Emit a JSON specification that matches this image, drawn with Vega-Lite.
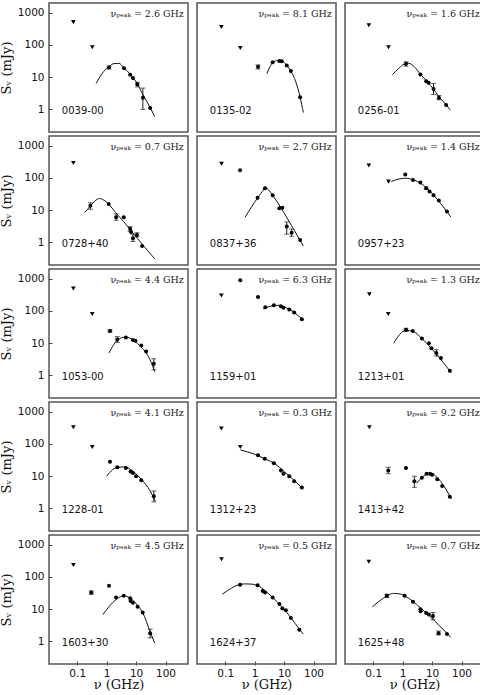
{
  "$schema": "https://vega.github.io/schema/vega-lite/v6.json",
  "padding": {"top": 2, "left": 0, "right": 0, "bottom": 0},
  "config": {
    "view": {"stroke": "#555", "strokeWidth": 1.5},
    "header": {"labels": false, "labelFontSize": 0, "labelPadding": 0},
    "axis": {"grid": false, "domain": false, "tickColor": "#444", "tickSize": -4, "labelFont": "DejaVu Sans", "labelFontSize": 10.5, "labelColor": "#111", "titleFont": "DejaVu Serif", "titleFontSize": 13, "titleFontWeight": "normal", "titleColor": "#111"},
    "axisX": {"labelPadding": 7, "titlePadding": 0},
    "axisY": {"labelPadding": 8, "titlePadding": 4}
  },
  "data": {"values": [
    {"src": "0039-00", "k": "meta", "lab": "νₚₑₐₖ = 2.6 GHz"},
    {"src": "0039-00", "k": "tri", "nu": 0.074, "s": 510},
    {"src": "0039-00", "k": "tri", "nu": 0.325, "s": 85},
    {"src": "0039-00", "k": "pt", "nu": 1.2, "s": 20, "lo": 18, "hi": 22},
    {"src": "0039-00", "k": "pt", "nu": 3.9, "s": 19},
    {"src": "0039-00", "k": "pt", "nu": 6.3, "s": 12},
    {"src": "0039-00", "k": "pt", "nu": 7.8, "s": 9.5},
    {"src": "0039-00", "k": "pt", "nu": 11, "s": 6, "lo": 5, "hi": 7},
    {"src": "0039-00", "k": "pt", "nu": 17, "s": 2.3, "lo": 1.0, "hi": 4.6},
    {"src": "0039-00", "k": "pt", "nu": 30, "s": 1.1},
    {"src": "0039-00", "k": "fit", "nu": 0.44, "s": 6.4},
    {"src": "0039-00", "k": "fit", "nu": 0.69, "s": 12.8},
    {"src": "0039-00", "k": "fit", "nu": 1.17, "s": 21},
    {"src": "0039-00", "k": "fit", "nu": 1.8, "s": 26.5},
    {"src": "0039-00", "k": "fit", "nu": 2.6, "s": 27},
    {"src": "0039-00", "k": "fit", "nu": 3.8, "s": 20},
    {"src": "0039-00", "k": "fit", "nu": 6.3, "s": 12.5},
    {"src": "0039-00", "k": "fit", "nu": 11.3, "s": 6},
    {"src": "0039-00", "k": "fit", "nu": 16.7, "s": 3},
    {"src": "0039-00", "k": "fit", "nu": 30, "s": 1.15},
    {"src": "0039-00", "k": "fit", "nu": 43, "s": 0.6},

    {"src": "0135-02", "k": "meta", "lab": "νₚₑₐₖ = 8.1 GHz"},
    {"src": "0135-02", "k": "tri", "nu": 0.074, "s": 360},
    {"src": "0135-02", "k": "tri", "nu": 0.325, "s": 81},
    {"src": "0135-02", "k": "pt", "nu": 1.3, "s": 21, "lo": 18, "hi": 24},
    {"src": "0135-02", "k": "pt", "nu": 4.1, "s": 29},
    {"src": "0135-02", "k": "pt", "nu": 6.9, "s": 32},
    {"src": "0135-02", "k": "pt", "nu": 8.3, "s": 31},
    {"src": "0135-02", "k": "pt", "nu": 12.3, "s": 23},
    {"src": "0135-02", "k": "pt", "nu": 17, "s": 15.5},
    {"src": "0135-02", "k": "pt", "nu": 35, "s": 2.4},
    {"src": "0135-02", "k": "fit", "nu": 2.6, "s": 12.9},
    {"src": "0135-02", "k": "fit", "nu": 3.3, "s": 21},
    {"src": "0135-02", "k": "fit", "nu": 4.1, "s": 28},
    {"src": "0135-02", "k": "fit", "nu": 5.5, "s": 32.5},
    {"src": "0135-02", "k": "fit", "nu": 7.5, "s": 33},
    {"src": "0135-02", "k": "fit", "nu": 10, "s": 29},
    {"src": "0135-02", "k": "fit", "nu": 12.3, "s": 23.5},
    {"src": "0135-02", "k": "fit", "nu": 17, "s": 15.5},
    {"src": "0135-02", "k": "fit", "nu": 25, "s": 7.2},
    {"src": "0135-02", "k": "fit", "nu": 35, "s": 2.4},
    {"src": "0135-02", "k": "fit", "nu": 45, "s": 0.8},

    {"src": "0256-01", "k": "meta", "lab": "νₚₑₐₖ = 1.6 GHz"},
    {"src": "0256-01", "k": "tri", "nu": 0.071, "s": 410},
    {"src": "0256-01", "k": "tri", "nu": 0.33, "s": 85},
    {"src": "0256-01", "k": "pt", "nu": 1.3, "s": 26, "lo": 22, "hi": 30},
    {"src": "0256-01", "k": "pt", "nu": 4.0, "s": 12.2},
    {"src": "0256-01", "k": "pt", "nu": 6.3, "s": 7.5},
    {"src": "0256-01", "k": "pt", "nu": 7.6, "s": 6.7},
    {"src": "0256-01", "k": "pt", "nu": 11.2, "s": 4.3, "lo": 2.9, "hi": 6.4},
    {"src": "0256-01", "k": "pt", "nu": 17, "s": 2.3, "lo": 2.0, "hi": 2.7},
    {"src": "0256-01", "k": "pt", "nu": 30, "s": 1.37},
    {"src": "0256-01", "k": "fit", "nu": 0.45, "s": 12},
    {"src": "0256-01", "k": "fit", "nu": 0.7, "s": 18},
    {"src": "0256-01", "k": "fit", "nu": 1.0, "s": 24},
    {"src": "0256-01", "k": "fit", "nu": 1.6, "s": 27},
    {"src": "0256-01", "k": "fit", "nu": 2.5, "s": 21},
    {"src": "0256-01", "k": "fit", "nu": 4, "s": 12.5},
    {"src": "0256-01", "k": "fit", "nu": 7, "s": 7},
    {"src": "0256-01", "k": "fit", "nu": 11, "s": 4.3},
    {"src": "0256-01", "k": "fit", "nu": 17, "s": 2.5},
    {"src": "0256-01", "k": "fit", "nu": 30, "s": 1.4},
    {"src": "0256-01", "k": "fit", "nu": 42, "s": 0.95},

    {"src": "0728+40", "k": "meta", "lab": "νₚₑₐₖ = 0.7 GHz"},
    {"src": "0728+40", "k": "tri", "nu": 0.074, "s": 290},
    {"src": "0728+40", "k": "pt", "nu": 0.28, "s": 13.8, "lo": 10.7, "hi": 17},
    {"src": "0728+40", "k": "pt", "nu": 1.17, "s": 15.5},
    {"src": "0728+40", "k": "pt", "nu": 2.1, "s": 6.1, "lo": 4.9, "hi": 7.7},
    {"src": "0728+40", "k": "pt", "nu": 3.8, "s": 6.0},
    {"src": "0728+40", "k": "pt", "nu": 6.3, "s": 2.6, "lo": 2.2, "hi": 3.1},
    {"src": "0728+40", "k": "pt", "nu": 6.7, "s": 2.1},
    {"src": "0728+40", "k": "pt", "nu": 7.8, "s": 1.35, "lo": 1.07, "hi": 1.8},
    {"src": "0728+40", "k": "pt", "nu": 10.7, "s": 1.7, "lo": 1.5, "hi": 2.0},
    {"src": "0728+40", "k": "pt", "nu": 16, "s": 0.77},
    {"src": "0728+40", "k": "fit", "nu": 0.18, "s": 8.5},
    {"src": "0728+40", "k": "fit", "nu": 0.28, "s": 13.5},
    {"src": "0728+40", "k": "fit", "nu": 0.4, "s": 19.5},
    {"src": "0728+40", "k": "fit", "nu": 0.58, "s": 23},
    {"src": "0728+40", "k": "fit", "nu": 0.8, "s": 20.5},
    {"src": "0728+40", "k": "fit", "nu": 1.17, "s": 15.5},
    {"src": "0728+40", "k": "fit", "nu": 2, "s": 8.5},
    {"src": "0728+40", "k": "fit", "nu": 3.8, "s": 4.4},
    {"src": "0728+40", "k": "fit", "nu": 6.3, "s": 2.5},
    {"src": "0728+40", "k": "fit", "nu": 11, "s": 1.35},
    {"src": "0728+40", "k": "fit", "nu": 20, "s": 0.7},
    {"src": "0728+40", "k": "fit", "nu": 43, "s": 0.31},

    {"src": "0837+36", "k": "meta", "lab": "νₚₑₐₖ = 2.7 GHz"},
    {"src": "0837+36", "k": "tri", "nu": 0.075, "s": 275},
    {"src": "0837+36", "k": "pt", "nu": 0.32, "s": 173},
    {"src": "0837+36", "k": "pt", "nu": 1.26, "s": 24.5},
    {"src": "0837+36", "k": "pt", "nu": 2.24, "s": 48},
    {"src": "0837+36", "k": "pt", "nu": 4.1, "s": 29},
    {"src": "0837+36", "k": "pt", "nu": 6.9, "s": 11.4},
    {"src": "0837+36", "k": "pt", "nu": 8.7, "s": 12},
    {"src": "0837+36", "k": "pt", "nu": 12.3, "s": 3.1, "lo": 1.8, "hi": 4.3},
    {"src": "0837+36", "k": "pt", "nu": 18, "s": 2.0, "lo": 1.55, "hi": 2.6},
    {"src": "0837+36", "k": "pt", "nu": 35, "s": 1.2},
    {"src": "0837+36", "k": "fit", "nu": 0.47, "s": 6},
    {"src": "0837+36", "k": "fit", "nu": 1.26, "s": 24},
    {"src": "0837+36", "k": "fit", "nu": 2.0, "s": 42},
    {"src": "0837+36", "k": "fit", "nu": 2.5, "s": 50},
    {"src": "0837+36", "k": "fit", "nu": 3.0, "s": 42},
    {"src": "0837+36", "k": "fit", "nu": 4.1, "s": 29},
    {"src": "0837+36", "k": "fit", "nu": 8, "s": 11.5},
    {"src": "0837+36", "k": "fit", "nu": 18, "s": 3.3},
    {"src": "0837+36", "k": "fit", "nu": 45, "s": 0.78},

    {"src": "0957+23", "k": "meta", "lab": "νₚₑₐₖ = 1.4 GHz"},
    {"src": "0957+23", "k": "tri", "nu": 0.071, "s": 245},
    {"src": "0957+23", "k": "tri", "nu": 0.33, "s": 77},
    {"src": "0957+23", "k": "pt", "nu": 1.23, "s": 129},
    {"src": "0957+23", "k": "pt", "nu": 2.24, "s": 87},
    {"src": "0957+23", "k": "pt", "nu": 4.0, "s": 72},
    {"src": "0957+23", "k": "pt", "nu": 6.3, "s": 48, "lo": 44, "hi": 52},
    {"src": "0957+23", "k": "pt", "nu": 8.2, "s": 38},
    {"src": "0957+23", "k": "pt", "nu": 11.2, "s": 29},
    {"src": "0957+23", "k": "pt", "nu": 17, "s": 20},
    {"src": "0957+23", "k": "pt", "nu": 32, "s": 9.1},
    {"src": "0957+23", "k": "fit", "nu": 0.41, "s": 77},
    {"src": "0957+23", "k": "fit", "nu": 0.7, "s": 92},
    {"src": "0957+23", "k": "fit", "nu": 1.3, "s": 98},
    {"src": "0957+23", "k": "fit", "nu": 2.24, "s": 88},
    {"src": "0957+23", "k": "fit", "nu": 4, "s": 70},
    {"src": "0957+23", "k": "fit", "nu": 6.3, "s": 50},
    {"src": "0957+23", "k": "fit", "nu": 11, "s": 30},
    {"src": "0957+23", "k": "fit", "nu": 17, "s": 19},
    {"src": "0957+23", "k": "fit", "nu": 32, "s": 9},
    {"src": "0957+23", "k": "fit", "nu": 43, "s": 6.2},

    {"src": "1053-00", "k": "meta", "lab": "νₚₑₐₖ = 4.4 GHz"},
    {"src": "1053-00", "k": "tri", "nu": 0.074, "s": 500},
    {"src": "1053-00", "k": "tri", "nu": 0.325, "s": 80},
    {"src": "1053-00", "k": "pt", "nu": 1.3, "s": 24, "lo": 22, "hi": 26},
    {"src": "1053-00", "k": "pt", "nu": 2.3, "s": 13, "lo": 10.5, "hi": 16},
    {"src": "1053-00", "k": "pt", "nu": 4.5, "s": 15},
    {"src": "1053-00", "k": "pt", "nu": 7.8, "s": 12.5},
    {"src": "1053-00", "k": "pt", "nu": 9.5, "s": 12},
    {"src": "1053-00", "k": "pt", "nu": 15, "s": 8.5},
    {"src": "1053-00", "k": "pt", "nu": 22, "s": 5.5},
    {"src": "1053-00", "k": "pt", "nu": 40, "s": 2.3, "lo": 1.5, "hi": 3.3},
    {"src": "1053-00", "k": "fit", "nu": 1.2, "s": 5},
    {"src": "1053-00", "k": "fit", "nu": 1.6, "s": 8},
    {"src": "1053-00", "k": "fit", "nu": 2.3, "s": 12.5},
    {"src": "1053-00", "k": "fit", "nu": 4.4, "s": 15.5},
    {"src": "1053-00", "k": "fit", "nu": 8, "s": 12.5},
    {"src": "1053-00", "k": "fit", "nu": 15, "s": 7.5},
    {"src": "1053-00", "k": "fit", "nu": 22, "s": 5},
    {"src": "1053-00", "k": "fit", "nu": 30, "s": 3},
    {"src": "1053-00", "k": "fit", "nu": 43, "s": 1.3},

    {"src": "1159+01", "k": "meta", "lab": "νₚₑₐₖ = 6.3 GHz"},
    {"src": "1159+01", "k": "tri", "nu": 0.074, "s": 300},
    {"src": "1159+01", "k": "pt", "nu": 0.325, "s": 900},
    {"src": "1159+01", "k": "pt", "nu": 1.3, "s": 270},
    {"src": "1159+01", "k": "pt", "nu": 2.3, "s": 130},
    {"src": "1159+01", "k": "pt", "nu": 4.5, "s": 150},
    {"src": "1159+01", "k": "pt", "nu": 7.8, "s": 140},
    {"src": "1159+01", "k": "pt", "nu": 9.5, "s": 125},
    {"src": "1159+01", "k": "pt", "nu": 15, "s": 110},
    {"src": "1159+01", "k": "pt", "nu": 22, "s": 90},
    {"src": "1159+01", "k": "pt", "nu": 40, "s": 55},
    {"src": "1159+01", "k": "fit", "nu": 2, "s": 115},
    {"src": "1159+01", "k": "fit", "nu": 3, "s": 135},
    {"src": "1159+01", "k": "fit", "nu": 6.3, "s": 150},
    {"src": "1159+01", "k": "fit", "nu": 12, "s": 125},
    {"src": "1159+01", "k": "fit", "nu": 22, "s": 90},
    {"src": "1159+01", "k": "fit", "nu": 45, "s": 52},

    {"src": "1213+01", "k": "meta", "lab": "νₚₑₐₖ = 1.3 GHz"},
    {"src": "1213+01", "k": "tri", "nu": 0.074, "s": 330},
    {"src": "1213+01", "k": "tri", "nu": 0.325, "s": 80},
    {"src": "1213+01", "k": "pt", "nu": 1.3, "s": 26, "lo": 23, "hi": 29},
    {"src": "1213+01", "k": "pt", "nu": 2.2, "s": 24},
    {"src": "1213+01", "k": "pt", "nu": 4.5, "s": 14},
    {"src": "1213+01", "k": "pt", "nu": 7.8, "s": 10},
    {"src": "1213+01", "k": "pt", "nu": 9.5, "s": 7},
    {"src": "1213+01", "k": "pt", "nu": 14, "s": 5, "lo": 4, "hi": 6.3},
    {"src": "1213+01", "k": "pt", "nu": 20, "s": 3.5},
    {"src": "1213+01", "k": "pt", "nu": 40, "s": 1.4},
    {"src": "1213+01", "k": "fit", "nu": 0.5, "s": 10},
    {"src": "1213+01", "k": "fit", "nu": 0.8, "s": 19},
    {"src": "1213+01", "k": "fit", "nu": 1.3, "s": 25},
    {"src": "1213+01", "k": "fit", "nu": 2.2, "s": 23.5},
    {"src": "1213+01", "k": "fit", "nu": 4.5, "s": 14},
    {"src": "1213+01", "k": "fit", "nu": 10, "s": 6.5},
    {"src": "1213+01", "k": "fit", "nu": 20, "s": 3.1},
    {"src": "1213+01", "k": "fit", "nu": 45, "s": 1.2},

    {"src": "1228-01", "k": "meta", "lab": "νₚₑₐₖ = 4.1 GHz"},
    {"src": "1228-01", "k": "tri", "nu": 0.074, "s": 330},
    {"src": "1228-01", "k": "tri", "nu": 0.325, "s": 80},
    {"src": "1228-01", "k": "pt", "nu": 1.3, "s": 28},
    {"src": "1228-01", "k": "pt", "nu": 2.3, "s": 19},
    {"src": "1228-01", "k": "pt", "nu": 4.5, "s": 18},
    {"src": "1228-01", "k": "pt", "nu": 6.5, "s": 14},
    {"src": "1228-01", "k": "pt", "nu": 7.8, "s": 12.5},
    {"src": "1228-01", "k": "pt", "nu": 10, "s": 10},
    {"src": "1228-01", "k": "pt", "nu": 15, "s": 7.5},
    {"src": "1228-01", "k": "pt", "nu": 40, "s": 2.4, "lo": 1.6, "hi": 3.5},
    {"src": "1228-01", "k": "fit", "nu": 1, "s": 10},
    {"src": "1228-01", "k": "fit", "nu": 1.6, "s": 16},
    {"src": "1228-01", "k": "fit", "nu": 2.5, "s": 19},
    {"src": "1228-01", "k": "fit", "nu": 4.1, "s": 19.5},
    {"src": "1228-01", "k": "fit", "nu": 8, "s": 14},
    {"src": "1228-01", "k": "fit", "nu": 15, "s": 8},
    {"src": "1228-01", "k": "fit", "nu": 30, "s": 3.5},
    {"src": "1228-01", "k": "fit", "nu": 45, "s": 1.7},

    {"src": "1312+23", "k": "meta", "lab": "νₚₑₐₖ = 0.3 GHz"},
    {"src": "1312+23", "k": "tri", "nu": 0.074, "s": 300},
    {"src": "1312+23", "k": "tri", "nu": 0.325, "s": 80},
    {"src": "1312+23", "k": "pt", "nu": 1.3, "s": 45},
    {"src": "1312+23", "k": "pt", "nu": 2.2, "s": 35},
    {"src": "1312+23", "k": "pt", "nu": 4.5, "s": 25},
    {"src": "1312+23", "k": "pt", "nu": 7.8, "s": 15},
    {"src": "1312+23", "k": "pt", "nu": 9.5, "s": 12},
    {"src": "1312+23", "k": "pt", "nu": 15, "s": 10},
    {"src": "1312+23", "k": "pt", "nu": 22, "s": 7},
    {"src": "1312+23", "k": "pt", "nu": 40, "s": 4.5},
    {"src": "1312+23", "k": "fit", "nu": 0.33, "s": 65},
    {"src": "1312+23", "k": "fit", "nu": 1, "s": 48},
    {"src": "1312+23", "k": "fit", "nu": 2, "s": 36},
    {"src": "1312+23", "k": "fit", "nu": 5, "s": 24},
    {"src": "1312+23", "k": "fit", "nu": 10, "s": 14},
    {"src": "1312+23", "k": "fit", "nu": 20, "s": 8},
    {"src": "1312+23", "k": "fit", "nu": 45, "s": 4},

    {"src": "1413+42", "k": "meta", "lab": "νₚₑₐₖ = 9.2 GHz"},
    {"src": "1413+42", "k": "tri", "nu": 0.074, "s": 330},
    {"src": "1413+42", "k": "pt", "nu": 0.325, "s": 15, "lo": 12, "hi": 19},
    {"src": "1413+42", "k": "pt", "nu": 1.3, "s": 18},
    {"src": "1413+42", "k": "pt", "nu": 2.5, "s": 7, "lo": 4.5, "hi": 10},
    {"src": "1413+42", "k": "pt", "nu": 4.5, "s": 9},
    {"src": "1413+42", "k": "pt", "nu": 6.5, "s": 12},
    {"src": "1413+42", "k": "pt", "nu": 8.5, "s": 12},
    {"src": "1413+42", "k": "pt", "nu": 10, "s": 11},
    {"src": "1413+42", "k": "pt", "nu": 15, "s": 8},
    {"src": "1413+42", "k": "pt", "nu": 22, "s": 5},
    {"src": "1413+42", "k": "pt", "nu": 40, "s": 2.3},
    {"src": "1413+42", "k": "fit", "nu": 3, "s": 6},
    {"src": "1413+42", "k": "fit", "nu": 5, "s": 10},
    {"src": "1413+42", "k": "fit", "nu": 9.2, "s": 12.5},
    {"src": "1413+42", "k": "fit", "nu": 15, "s": 9},
    {"src": "1413+42", "k": "fit", "nu": 25, "s": 5},
    {"src": "1413+42", "k": "fit", "nu": 45, "s": 2},

    {"src": "1603+30", "k": "meta", "lab": "νₚₑₐₖ = 4.5 GHz"},
    {"src": "1603+30", "k": "tri", "nu": 0.074, "s": 234},
    {"src": "1603+30", "k": "pt", "nu": 0.3, "s": 33, "lo": 29, "hi": 37},
    {"src": "1603+30", "k": "pt", "nu": 1.2, "s": 53},
    {"src": "1603+30", "k": "pt", "nu": 2.1, "s": 23},
    {"src": "1603+30", "k": "pt", "nu": 3.8, "s": 26},
    {"src": "1603+30", "k": "pt", "nu": 6.3, "s": 22},
    {"src": "1603+30", "k": "pt", "nu": 6.5, "s": 18},
    {"src": "1603+30", "k": "pt", "nu": 7.8, "s": 16},
    {"src": "1603+30", "k": "pt", "nu": 11.3, "s": 12},
    {"src": "1603+30", "k": "pt", "nu": 16.7, "s": 7.9},
    {"src": "1603+30", "k": "pt", "nu": 30, "s": 1.8, "lo": 1.3, "hi": 2.4},
    {"src": "1603+30", "k": "fit", "nu": 0.74, "s": 6.8},
    {"src": "1603+30", "k": "fit", "nu": 1.2, "s": 12},
    {"src": "1603+30", "k": "fit", "nu": 2.1, "s": 20},
    {"src": "1603+30", "k": "fit", "nu": 3.8, "s": 26},
    {"src": "1603+30", "k": "fit", "nu": 6.3, "s": 22},
    {"src": "1603+30", "k": "fit", "nu": 11.3, "s": 13},
    {"src": "1603+30", "k": "fit", "nu": 16.7, "s": 7.9},
    {"src": "1603+30", "k": "fit", "nu": 30, "s": 2.0},
    {"src": "1603+30", "k": "fit", "nu": 43, "s": 0.89},

    {"src": "1624+37", "k": "meta", "lab": "νₚₑₐₖ = 0.5 GHz"},
    {"src": "1624+37", "k": "tri", "nu": 0.075, "s": 352},
    {"src": "1624+37", "k": "pt", "nu": 0.32, "s": 57},
    {"src": "1624+37", "k": "pt", "nu": 1.26, "s": 55},
    {"src": "1624+37", "k": "pt", "nu": 1.87, "s": 37},
    {"src": "1624+37", "k": "pt", "nu": 2.24, "s": 33},
    {"src": "1624+37", "k": "pt", "nu": 4.1, "s": 23},
    {"src": "1624+37", "k": "pt", "nu": 6.9, "s": 14.4},
    {"src": "1624+37", "k": "pt", "nu": 8.7, "s": 10.5},
    {"src": "1624+37", "k": "pt", "nu": 11.5, "s": 9.3},
    {"src": "1624+37", "k": "pt", "nu": 17, "s": 5.3},
    {"src": "1624+37", "k": "pt", "nu": 33, "s": 2.3},
    {"src": "1624+37", "k": "fit", "nu": 0.079, "s": 29},
    {"src": "1624+37", "k": "fit", "nu": 0.15, "s": 43},
    {"src": "1624+37", "k": "fit", "nu": 0.25, "s": 55},
    {"src": "1624+37", "k": "fit", "nu": 0.45, "s": 61},
    {"src": "1624+37", "k": "fit", "nu": 0.8, "s": 60},
    {"src": "1624+37", "k": "fit", "nu": 1.26, "s": 54},
    {"src": "1624+37", "k": "fit", "nu": 2.24, "s": 38},
    {"src": "1624+37", "k": "fit", "nu": 4.1, "s": 23},
    {"src": "1624+37", "k": "fit", "nu": 8.7, "s": 11.5},
    {"src": "1624+37", "k": "fit", "nu": 17, "s": 5.5},
    {"src": "1624+37", "k": "fit", "nu": 33, "s": 2.4},
    {"src": "1624+37", "k": "fit", "nu": 45, "s": 1.7},

    {"src": "1625+48", "k": "meta", "lab": "νₚₑₐₖ = 0.7 GHz"},
    {"src": "1625+48", "k": "tri", "nu": 0.071, "s": 296},
    {"src": "1625+48", "k": "pt", "nu": 0.29, "s": 26, "lo": 23, "hi": 29},
    {"src": "1625+48", "k": "pt", "nu": 1.16, "s": 26},
    {"src": "1625+48", "k": "pt", "nu": 2.24, "s": 17},
    {"src": "1625+48", "k": "pt", "nu": 4.0, "s": 10},
    {"src": "1625+48", "k": "pt", "nu": 4.1, "s": 8.7},
    {"src": "1625+48", "k": "pt", "nu": 6.3, "s": 7.6},
    {"src": "1625+48", "k": "pt", "nu": 7.8, "s": 6.8},
    {"src": "1625+48", "k": "pt", "nu": 10.7, "s": 6.2, "lo": 4.7, "hi": 7.9},
    {"src": "1625+48", "k": "pt", "nu": 16.6, "s": 1.8, "lo": 1.6, "hi": 2.1},
    {"src": "1625+48", "k": "pt", "nu": 32, "s": 1.7},
    {"src": "1625+48", "k": "fit", "nu": 0.093, "s": 11.8},
    {"src": "1625+48", "k": "fit", "nu": 0.17, "s": 18.5},
    {"src": "1625+48", "k": "fit", "nu": 0.29, "s": 26},
    {"src": "1625+48", "k": "fit", "nu": 0.52, "s": 31},
    {"src": "1625+48", "k": "fit", "nu": 0.9, "s": 29},
    {"src": "1625+48", "k": "fit", "nu": 1.16, "s": 26},
    {"src": "1625+48", "k": "fit", "nu": 2.24, "s": 17.5},
    {"src": "1625+48", "k": "fit", "nu": 4, "s": 11},
    {"src": "1625+48", "k": "fit", "nu": 8, "s": 6.3},
    {"src": "1625+48", "k": "fit", "nu": 16, "s": 3.4},
    {"src": "1625+48", "k": "fit", "nu": 30, "s": 1.9},
    {"src": "1625+48", "k": "fit", "nu": 43, "s": 1.34}
  ]},
  "facet": {"field": "src", "type": "nominal", "title": null, "header": null},
  "columns": 3,
  "spacing": {"column": 7, "row": 2},
  "spec": {
    "width": 139,
    "height": 129,
    "layer": [
      {"transform": [{"filter": "datum.k == 'fit'"}], "mark": {"type": "line", "color": "#111", "strokeWidth": 1, "interpolate": "monotone"},
       "encoding": {
         "x": {"field": "nu", "type": "quantitative", "scale": {"type": "log", "domain": [0.011, 580], "nice": false}, "axis": {"values": [0.1, 1, 10, 100], "title": "ν (GHz)", "format": "~g"}},
         "y": {"field": "s", "type": "quantitative", "scale": {"type": "log", "domain": [0.2, 2000], "nice": false}, "axis": {"values": [1, 10, 100, 1000], "title": "Sᵥ (mJy)", "format": "~g"}},
         "order": {"field": "nu", "type": "quantitative"}}},
      {"transform": [{"filter": "isValid(datum.lo)"}], "mark": {"type": "rule", "color": "#222", "strokeWidth": 1},
       "encoding": {"x": {"field": "nu", "type": "quantitative"}, "y": {"field": "lo", "type": "quantitative"}, "y2": {"field": "hi"}}},
      {"transform": [{"filter": "isValid(datum.lo)"}], "mark": {"type": "tick", "orient": "horizontal", "size": 5, "thickness": 1, "color": "#222"},
       "encoding": {"x": {"field": "nu", "type": "quantitative"}, "y": {"field": "lo", "type": "quantitative"}}},
      {"transform": [{"filter": "isValid(datum.lo)"}], "mark": {"type": "tick", "orient": "horizontal", "size": 5, "thickness": 1, "color": "#222"},
       "encoding": {"x": {"field": "nu", "type": "quantitative"}, "y": {"field": "hi", "type": "quantitative"}}},
      {"transform": [{"filter": "datum.k == 'pt'"}], "mark": {"type": "point", "shape": "circle", "filled": true, "color": "#000", "size": 16, "opacity": 1},
       "encoding": {"x": {"field": "nu", "type": "quantitative"}, "y": {"field": "s", "type": "quantitative"}}},
      {"transform": [{"filter": "datum.k == 'tri'"}], "mark": {"type": "point", "shape": "triangle-down", "filled": true, "color": "#000", "size": 22, "opacity": 1},
       "encoding": {"x": {"field": "nu", "type": "quantitative"}, "y": {"field": "s", "type": "quantitative"}}},
      {"transform": [{"filter": "datum.k == 'meta'"}], "mark": {"type": "text", "align": "left", "baseline": "middle", "font": "DejaVu Sans", "fontSize": 10, "color": "#111"},
       "encoding": {"x": {"datum": 0.03, "type": "quantitative"}, "y": {"datum": 0.9, "type": "quantitative"}, "text": {"field": "src", "type": "nominal"}}},
      {"transform": [{"filter": "datum.k == 'meta'"}], "mark": {"type": "text", "align": "right", "baseline": "middle", "font": "DejaVu Serif", "fontSize": 9.5, "color": "#222"},
       "encoding": {"x": {"datum": 420, "type": "quantitative"}, "y": {"datum": 880, "type": "quantitative"}, "text": {"field": "lab", "type": "nominal"}}}
    ]
  }
}
